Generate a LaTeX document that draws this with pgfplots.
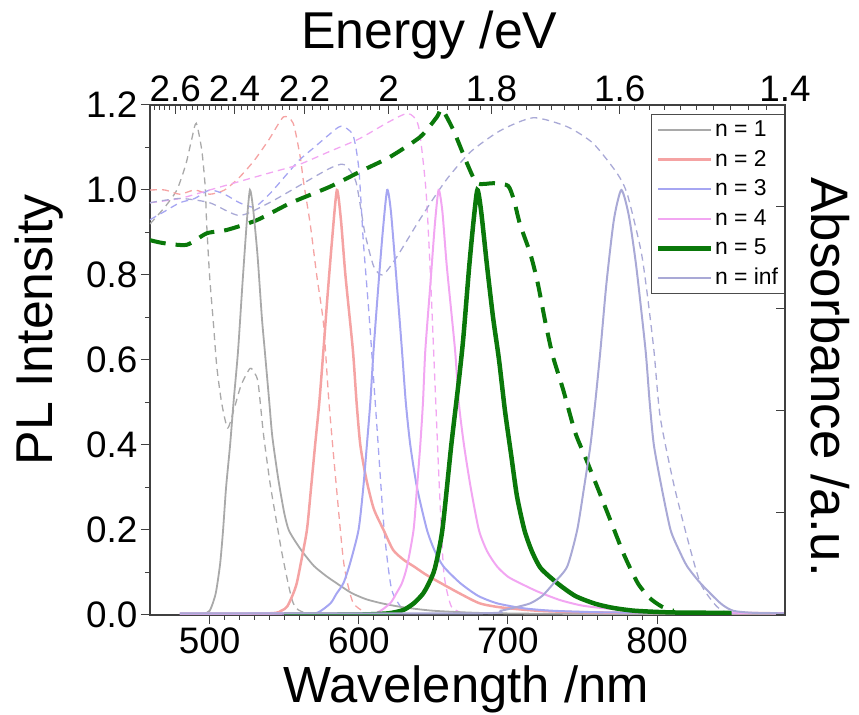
\documentclass[border=0pt]{standalone}
\usepackage{pgfplots}
\pgfplotsset{compat=1.18}
\usepackage{fontspec}
\setmainfont{Liberation Sans}
\definecolor{colgray}{HTML}{A9A9A9}
\definecolor{colred}{HTML}{F5A3A3}
\definecolor{colblue}{HTML}{A6A6F2}
\definecolor{colpink}{HTML}{F2A6F2}
\definecolor{colgreen}{HTML}{0A780A}
\definecolor{collav}{HTML}{A9A9D6}
\begin{document}
\begin{tikzpicture}[x=1bp,y=1bp]
\path[use as bounding box] (-150,-100) rectangle (709,615);
\begin{axis}[
 at={(0,0)}, anchor=south west,
 scale only axis, width=635bp, height=510bp,
 xmin=460, xmax=885.72, ymin=0, ymax=1.2,
 xtick pos=bottom, ytick pos=left, tick align=outside,
 xtick={500,600,700,800}, minor x tick num=9,
 ytick={0,0.2,...,1.2}, minor y tick num=1,
 yticklabel style={/pgf/number format/.cd,fixed,fixed zerofill,precision=1},
 /pgf/number format/assume math mode=true,
 tick label style={font=\fontsize{37}{40}\selectfont},
 major tick length=9bp, minor tick length=5bp,
 axis line style={black!75, line width=1.2bp},
 tick style={black!75, line width=1bp},
 xlabel={Wavelength /nm},
 xlabel style={font=\fontsize{51}{56}\selectfont, at={(axis description cs:0.498,-0.172)}, anchor=base},
 ylabel={PL Intensity},
 ylabel style={font=\fontsize{52}{56}\selectfont, at={(axis description cs:-0.154,0.559)}, anchor=base},
 legend style={at={(axis description cs:1,0.982)}, anchor=north east, draw=black!70, line width=0.8bp,
   font=\fontsize{23}{26}\selectfont, fill=white, row sep=6.6bp, inner xsep=5bp, inner ysep=4bp,
   nodes={inner sep=1.5bp, text height=16.5bp, text depth=3.5bp}},
 legend cell align=left,
 legend image code/.code={\draw[#1] (0bp,0bp) -- (53bp,0bp);},
 every axis plot/.append style={smooth, tension=0.4},
]
% ---------- absorbance (dashed) ----------
\addplot[colgray, line width=1.3bp, dash pattern=on 7bp off 5bp, forget plot] coordinates {
(460,0.92)(470,0.96)(478,1.0)(484,1.06)(488,1.12)(491,1.157)(494.7,1.094)(497,1.008)(498,0.92)(500,0.796)(502.5,0.687)(504.8,0.584)(508,0.50)(512,0.44)(516,0.48)(521,0.54)(527,0.58)(530,0.57)(532.5,0.546)(536,0.428)(540.5,0.31)(545,0.216)(549,0.136)(556,0.028)(565,0.005)(600,0.0)};
\addplot[colred, line width=1.3bp, dash pattern=on 7bp off 5bp, forget plot] coordinates {
(460,1.0)(470,1.0)(480,0.99)(490,1.0)(500,0.99)(510,1.0)(520,1.03)(530,1.07)(540,1.12)(549.5,1.172)(556,1.157)(560.7,1.078)(562.9,1.02)(567.4,0.92)(571.9,0.796)(576.3,0.686)(580,0.5)(585,0.3)(590,0.12)(596,0.03)(605,0.005)};
\addplot[colblue, line width=1.3bp, dash pattern=on 7bp off 5bp, forget plot] coordinates {
(460,0.93)(470,0.95)(480,0.97)(490,0.98)(500,1.0)(510,0.99)(520,0.97)(530,0.96)(540,0.99)(550,1.03)(560,1.07)(570,1.1)(580,1.13)(588,1.15)(596,1.13)(600,1.05)(603,0.88)(607,0.7)(612,0.45)(617,0.2)(622,0.06)(630,0.01)};
\addplot[colpink, line width=1.3bp, dash pattern=on 7bp off 5bp, forget plot] coordinates {
(460,0.97)(480,0.98)(500,1.0)(520,1.02)(540,1.04)(560,1.06)(580,1.09)(600,1.12)(620,1.16)(633,1.18)(640,1.15)(645,1.0)(648,0.8)(651,0.55)(654,0.3)(657,0.1)(662,0.02)(670,0.005)};
\addplot[collav, line width=1.3bp, dash pattern=on 7bp off 5bp, forget plot] coordinates {
(460,0.97)(480,0.98)(500,0.97)(520,0.94)(540,0.97)(560,1.01)(580,1.05)(590,1.06)(598,1.02)(604,0.9)(610,0.82)(616,0.8)(625,0.84)(639,0.92)(650,0.98)(660,1.03)(675,1.09)(695,1.14)(717,1.17)(739.6,1.149)(757,1.11)(773,1.04)(780,0.99)(789,0.86)(793,0.765)(797.8,0.624)(802,0.467)(811,0.31)(820,0.184)(829,0.075)(840,0.02)(850,0.0)};
\addplot[colgreen, line width=4bp, dash pattern=on 16bp off 10bp, forget plot] coordinates {
(460,0.882)(469,0.875)(484.6,0.871)(498,0.898)(511.5,0.906)(531.6,0.929)(554,0.969)(580.8,1.008)(603,1.047)(621,1.078)(641.2,1.125)(652.4,1.172)(655.7,1.19)(663.5,1.14)(672.5,1.063)(679.3,1.016)(690.4,1.016)(700,1.01)(704,0.976)(708,0.92)(715,0.85)(720,0.78)(725,0.69)(730,0.61)(737,0.53)(745,0.43)(752,0.37)(760,0.3)(769,0.22)(778,0.14)(787,0.075)(795,0.04)(803,0.02)(811,0.01)};
% ---------- PL (solid) ----------
\addplot[colgray, line width=1.8bp] coordinates {
(480,0.002)(495,0.003)(500,0.01)(504,0.05)(507,0.12)(509,0.2)(511,0.3)(513.7,0.4)(516,0.5)(519,0.62)(522,0.78)(525,0.93)(527,1.0)(529,0.96)(532,0.85)(535,0.70)(537,0.62)(540,0.5)(542,0.42)(546,0.32)(550,0.24)(553,0.2)(558,0.17)(563,0.145)(570,0.115)(578,0.092)(585,0.075)(595,0.052)(605,0.037)(616,0.027)(630,0.018)(650,0.01)(680,0.005)(720,0.003)(800,0.002)(885,0.002)};
\addlegendentry{n = 1}
\addplot[colred, line width=2.5bp] coordinates {
(480,0.003)(540,0.004)(548,0.01)(552,0.02)(556,0.05)(558.4,0.075)(561,0.12)(565.2,0.2)(568,0.3)(570.7,0.4)(573.5,0.5)(576.3,0.624)(579,0.75)(582,0.88)(585.3,1.0)(588,0.93)(591,0.8)(596,0.624)(598.5,0.5)(601,0.4)(605,0.32)(610,0.25)(616.6,0.2)(623,0.153)(630,0.13)(637,0.114)(645,0.095)(655,0.075)(668,0.05)(681,0.0275)(695,0.018)(720,0.01)(760,0.006)(885,0.004)};
\addlegendentry{n = 2}
\addplot[colblue, line width=2bp] coordinates {
(480,0.003)(560,0.004)(572,0.005)(581,0.0275)(585,0.05)(589.7,0.075)(594,0.12)(599.8,0.2)(603,0.3)(605.4,0.4)(607.7,0.5)(609.9,0.624)(613,0.77)(616,0.9)(619,1.0)(621.5,0.95)(625,0.8)(628.9,0.624)(631.5,0.5)(634.5,0.4)(639,0.3)(645.7,0.2)(651,0.15)(656.8,0.114)(668,0.075)(680,0.045)(692.7,0.0275)(710,0.016)(730,0.01)(770,0.006)(885,0.004)};
\addlegendentry{n = 3}
\addplot[colpink, line width=2bp] coordinates {
(480,0.003)(600,0.004)(612,0.005)(621,0.0275)(625,0.05)(628.9,0.075)(632.3,0.114)(636.7,0.2)(639,0.3)(641.2,0.4)(643,0.5)(644.6,0.624)(648,0.78)(651,0.92)(653.5,1.0)(656,0.95)(659,0.82)(664.5,0.624)(667,0.5)(670.5,0.4)(675,0.3)(680.5,0.2)(686,0.15)(692.7,0.114)(700,0.09)(708,0.075)(720,0.055)(735,0.035)(750,0.022)(770,0.014)(800,0.008)(885,0.004)};
\addlegendentry{n = 4}
\addplot[colgreen, line width=4.5bp] coordinates {
(550,0.0)(600,0.001)(620,0.004)(630,0.012)(637,0.028)(643,0.05)(647,0.075)(651,0.11)(656,0.2)(662,0.4)(667,0.55)(670,0.65)(674,0.82)(677,0.93)(679.5,1.0)(682,0.95)(686,0.82)(690,0.7)(694,0.6)(698,0.48)(702,0.38)(706,0.28)(711,0.2)(716,0.15)(722,0.11)(733,0.075)(745,0.045)(758,0.027)(770,0.017)(785,0.01)(810,0.006)(850,0.005)};
\addlegendentry{n = 5}
\addplot[collav, line width=2bp] coordinates {
(480,0.004)(680,0.004)(695,0.01)(705,0.018)(715,0.0275)(723,0.045)(730.7,0.075)(739.7,0.114)(746.4,0.2)(751,0.3)(755.3,0.4)(758.5,0.5)(762,0.624)(766,0.78)(771,0.93)(776,1.0)(781,0.94)(786,0.82)(792.2,0.624)(795,0.5)(797.8,0.4)(803,0.3)(809,0.2)(815,0.15)(820.2,0.114)(829,0.075)(842.5,0.0275)(851,0.01)(865,0.005)(885,0.004)};
\addlegendentry{n = inf}
\end{axis}
\begin{axis}[
 at={(0,0)}, anchor=south west,
 scale only axis, width=635bp, height=510bp,
 xmin=460, xmax=885.72, ymin=0, ymax=1,
 axis x line*=top, axis y line*=right, tick align=inside,
 xtick={476.923,516.667,563.636,620,688.889,775,885.714},
 xticklabels={2.6,2.4,2.2,2,1.8,1.6,1.4},
 minor xtick={462.687,466.165,469.697,473.282,480.620,484.375,488.189,492.063,496.0,500.0,504.065,508.197,512.397,521.008,525.424,529.915,534.483,539.130,543.860,548.673,553.571,558.559,568.807,574.074,579.439,584.906,590.476,596.154,601.942,607.843,613.861,626.263,632.653,639.175,645.833,652.632,659.574,666.667,673.913,681.319,696.629,704.545,712.644,720.930,729.412,738.095,746.988,756.098,765.432,784.810,794.872,805.195,815.789,826.667,837.838,849.315,861.111,873.239},
 ytick={0,0.2,...,1}, yticklabels={},
 tick label style={font=\fontsize{37}{40}\selectfont},
 major tick length=9bp, minor tick length=5bp,
 axis line style={black!75, line width=1.2bp},
 tick style={black!75, line width=1bp},
 xlabel={Energy /eV},
 xlabel style={font=\fontsize{52}{56}\selectfont, at={(axis description cs:0.44,1.11)}, anchor=base},
 ylabel={Absorbance /a.u.},
 ylabel style={font=\fontsize{53}{56}\selectfont, at={(axis description cs:1.041,0.466)}, anchor=base, rotate=180},
]
\addplot[draw=none] coordinates {(500,0.5)};
\end{axis}
\end{tikzpicture}
\end{document}
